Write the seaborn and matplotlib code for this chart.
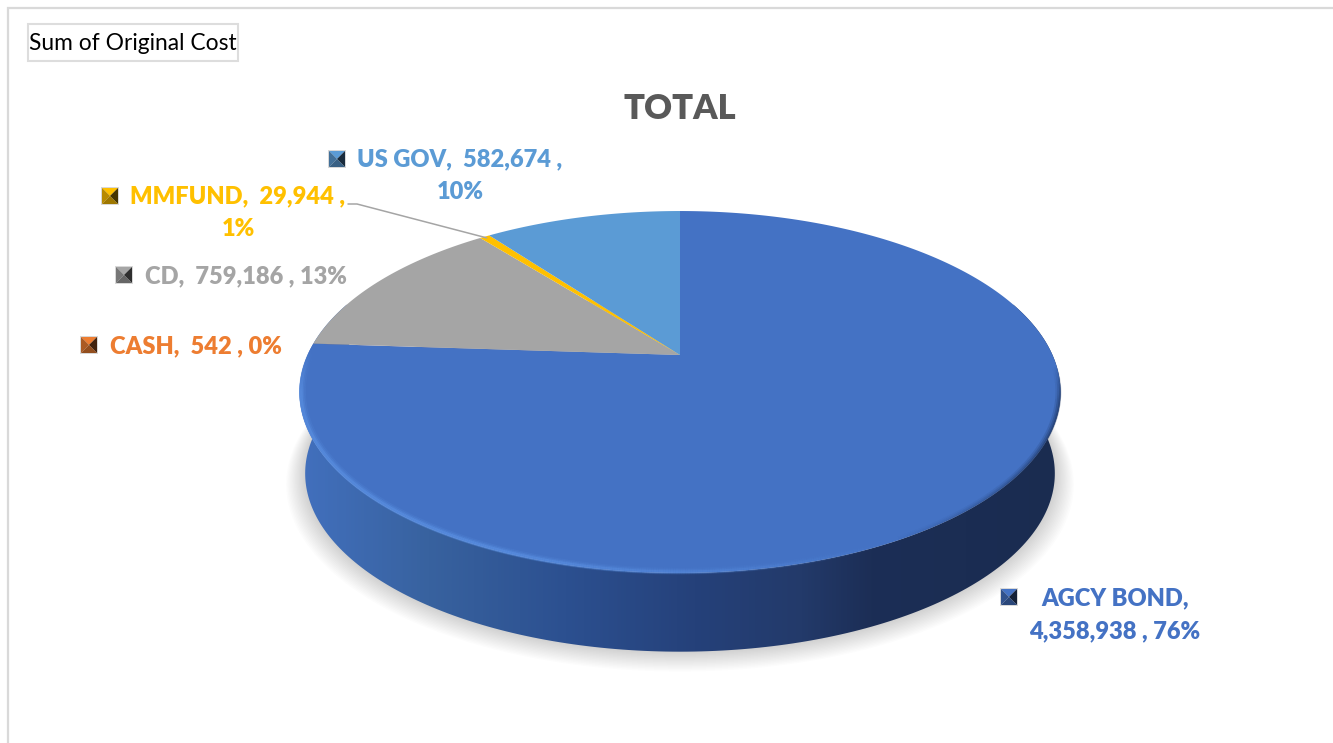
import numpy as np
import matplotlib
matplotlib.use("Agg")
import matplotlib.pyplot as plt
import seaborn as sns
from matplotlib.collections import LineCollection
from matplotlib.colors import LinearSegmentedColormap, to_rgb
from matplotlib.patches import Polygon

# Portfolio holdings, in the order the slices run clockwise from twelve o'clock
categories = ["AGCY BOND", "CASH", "CD", "MMFUND", "US GOV"]
original_cost = [4358938, 542, 759186, 29944, 582674]
slice_colors = ["#4472C4", "#ED7D31", "#A5A5A5", "#FFC000", "#5B9BD5"]
chart_title = "TOTAL"
field_button = "Sum of Original Cost"

sns.set_theme(style="white")
plt.rcParams["font.family"] = ["Lato", "DejaVu Sans"]
palette = dict(zip(categories, sns.color_palette(slice_colors)))

fig = plt.figure(figsize=(13.33, 7.43), dpi=100, facecolor="white")
ax = fig.add_axes([0, 0, 1, 1])
ax.set_xlim(0, 1333)
ax.set_ylim(743, 0)
ax.axis("off")

# Perspective view of the unit circle, used for the disc and its lower edge
CX, Y_TOP, Y_BOTTOM = 680.0, 355.0, 437.0
DEPTH, HEIGHT, WIDTH = 0.2044, 173.4, 372.5


def rim(frac, scale=1.0, y0=Y_TOP):
    """Project a clockwise fraction of the circle to canvas coordinates."""
    a = 2 * np.pi * np.asarray(frac, dtype=float)
    x, y = np.sin(a), np.cos(a)
    denom = 1 + DEPTH * y
    return CX + scale * WIDTH * x / denom, y0 - scale * HEIGHT * y / denom


values = np.asarray(original_cost, dtype=float)
shares = values / values.sum()
edges = np.concatenate([[0], np.cumsum(shares)])

# Soft ground shadow built from stacked translucent outlines
whole = np.linspace(0, 1, 361)
for s in np.linspace(1, 0, 16):
    px, py = rim(whole, 0.985 + 0.05 * s, Y_BOTTOM + 9 * s)
    ax.fill(px, py, color="black", alpha=0.011, lw=0, zorder=1)

# Side wall with a horizontal light-to-dark gradient
wall_cmap = LinearSegmentedColormap.from_list(
    "wall",
    [(0.0, "#4270BE"), (0.17, "#38629F"), (0.35, "#2C5090"),
     (0.52, "#25417A"), (0.66, "#233A6A"), (0.75, "#1C2E56"), (1.0, "#1A2C50")],
)
front = np.linspace(0.2, 0.8, 241)
bx, by = rim(front, 0.985, Y_BOTTOM)
tx, ty = rim(front[::-1])
wall_outline = Polygon(np.c_[np.r_[bx, tx], np.r_[by, ty]], closed=True,
                       transform=ax.transData, fc="none", ec="none")
ax.add_patch(wall_outline)
wall = ax.imshow(np.linspace(0, 1, 512)[None, :], cmap=wall_cmap, aspect="auto",
                 extent=[298, 1062, 660, 280], zorder=2, interpolation="bilinear")
wall.set_clip_path(wall_outline)
ax.set_xlim(0, 1333)
ax.set_ylim(743, 0)

# Top face: one wedge per holding
for name, start, stop in zip(categories, edges[:-1], edges[1:]):
    steps = np.linspace(start, stop, max(3, int((stop - start) * 720)))
    px, py = rim(steps)
    ax.fill(np.r_[CX, px], np.r_[Y_TOP, py], color=palette[name], lw=0, zorder=3)

# Bevel along the front rim: bright on the left, shaded on the right
seg_t = np.linspace(0.26, edges[1], 600)


def bevel(scale, lw, color, weight):
    px, py = rim(seg_t, scale)
    pts = np.c_[px, py]
    segments = np.stack([pts[:-1], pts[1:]], axis=1)
    rgba = np.tile((*to_rgb(color), 0.0), (len(segments), 1))
    rgba[:, 3] = weight(seg_t[:-1])
    ax.add_collection(LineCollection(segments, colors=rgba, linewidths=lw,
                                     capstyle="butt", zorder=4))


light = lambda t: np.clip((t - 0.42) / 0.14, 0, 1) * np.clip((0.755 - t) / 0.04, 0, 1)
shade = lambda t: np.clip((0.42 - t) / 0.10, 0, 1) * np.clip((t - 0.26) / 0.03, 0, 1)
for scale, lw, strength in [(0.992, 5.0, 0.16), (0.994, 3.6, 0.30), (0.996, 2.4, 0.55)]:
    bevel(scale, lw, "#5C92E4", lambda t, k=strength: k * light(t))
for scale, lw, strength in [(0.993, 3.5, 0.18), (0.996, 2.5, 0.30), (0.999, 1.6, 0.45)]:
    bevel(scale, lw, "#1F3560", lambda t, k=strength: k * shade(t))

# Chart frame (only the top and left edges are in view)
ax.plot([7.5, 7.5, 1333], [743, 7.5, 7.5], color="#D9D9D9", lw=1.6, zorder=1,
        solid_joinstyle="miter")

# Pivot field button
ax.add_patch(plt.Rectangle((28, 24), 210, 37, fc="white", ec="#DDDDDD", lw=1.5, zorder=5))
ax.text(133, 44, field_button, ha="center", va="center", fontsize=16.4,
        color="black", zorder=6)

ax.text(680, 109, chart_title, ha="center", va="center", fontsize=24.8,
        fontweight="heavy", color="#595959", zorder=6)


def label_text(name, value, share):
    head, amount, pct = f"{name},", f"{value:,} ,", f"{share:.0%}"
    if name == "AGCY BOND":
        return f"{head}\n{amount} {pct}"
    if name in ("MMFUND", "US GOV"):
        return f"{head}  {amount}\n{pct}"
    return f"{head}  {amount} {pct}"


label_xy = {"AGCY BOND": (1115, 615), "CASH": (196, 346), "CD": (246, 276),
            "MMFUND": (238, 213), "US GOV": (460, 176)}
key_xy = {"AGCY BOND": (1009, 597), "CASH": (89, 345), "CD": (124, 275),
          "MMFUND": (110, 196), "US GOV": (337, 159)}


def legend_key(cx, cy, color, half=8.0):
    """Small bevelled square: four triangles meeting at the centre."""
    base = np.array(to_rgb(color))
    corners = [(-1, -1), (1, -1), (1, 1), (-1, 1)]
    tones = [1.0, 0.28, 0.62, 0.72]
    ax.add_patch(plt.Rectangle((cx - half - 0.6, cy - half - 0.6), 2 * half + 1.2, 2 * half + 1.2,
                               fc="#D8D8D8", ec="none", zorder=5))
    for i, tone in enumerate(tones):
        a, b = corners[i], corners[(i + 1) % 4]
        ax.fill([cx + a[0] * half, cx + b[0] * half, cx],
                [cy + a[1] * half, cy + b[1] * half, cy],
                color=tuple(base * tone), lw=0, zorder=6)


for name, value, share in zip(categories, original_cost, shares):
    ax.text(*label_xy[name], label_text(name, value, share), ha="center", va="center",
            fontsize=17, fontweight="heavy", color=palette[name], linespacing=1.6, zorder=6)
    legend_key(*key_xy[name], palette[name])

# Leader line from the MMFUND label to the middle of its slice
mm = categories.index("MMFUND")
lx, ly = rim((edges[mm] + edges[mm + 1]) / 2, 0.99)
ax.plot([348, 357, lx], [204, 204, ly], color="#A5A5A5", lw=1.1, zorder=5)

fig.savefig("out.png", dpi=100, facecolor="white")
